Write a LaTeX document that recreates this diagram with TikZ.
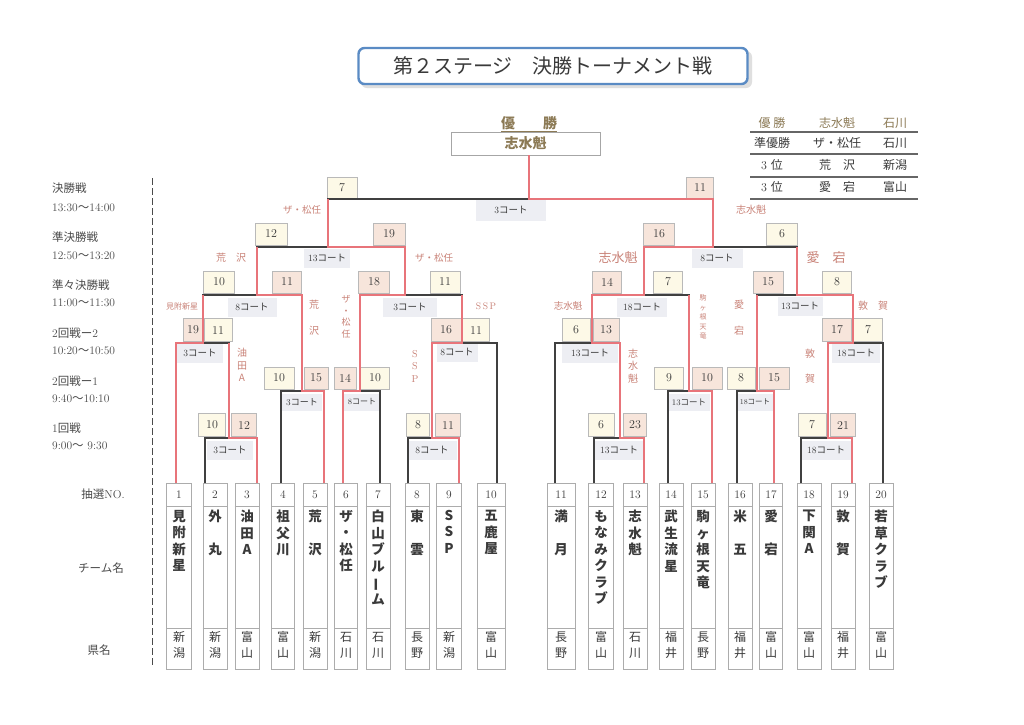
\documentclass[tikz,border=0pt]{standalone}
\usepackage{fontspec}
\newfontfamily\jp{Noto Sans CJK JP}
\usetikzlibrary{calc}
\definecolor{lnc}{HTML}{404040}
\definecolor{wred}{HTML}{E8747A}
\definecolor{lab}{HTML}{C98277}
\definecolor{cream}{HTML}{FDF9E7}
\definecolor{peach}{HTML}{F7E5DB}
\definecolor{courtbg}{HTML}{EDEEF3}
\definecolor{brownt}{HTML}{8C7A55}
\definecolor{titleblue}{HTML}{5A8BC4}
\definecolor{txt}{HTML}{3A3A3A}
\definecolor{sidec}{HTML}{4A4A4A}
\newcommand\wave{{\jp 〜}}
\newcommand\ct[1]{#1{\jp コート}}
\begin{document}
\begin{tikzpicture}[x=1pt,y=-1pt,
  lnk/.style={draw=lnc,line width=1.1pt},
  win/.style={draw=wred,line width=2.3pt},
  sbox/.style={draw=gray!55,line width=0.5pt,minimum width=28pt,minimum height=21pt,inner sep=0pt,font=\fontsize{12}{12}\selectfont,text=txt},
  sw/.style={sbox,fill=peach},
  sl/.style={sbox,fill=cream},
  court/.style={fill=courtbg,inner sep=0pt,minimum height=19pt,font=\fontsize{9.5}{9.5}\selectfont,text=txt},
  wl/.style={text=lab,inner sep=0pt,align=center},
  tbox/.style={draw=gray!65,line width=0.6pt,fill=white,minimum height=186pt,inner sep=0pt},
  lt/.style={anchor=west,inner sep=0pt,text=sidec,font=\fontsize{11.5}{11.5}\selectfont},
  tab/.style={inner sep=0pt,font=\fontsize{12}{12}\selectfont,text=txt}]
\useasboundingbox (0,0) rectangle (1024,724);
\fill[white] (0,0) rectangle (1024,724);

% title
\fill[gray!25,rounded corners=6pt] (361,51) rectangle (752,88);
\node[draw=titleblue,line width=2.4pt,fill=white,rounded corners=6pt,minimum width=389pt,minimum height=36pt,inner sep=0pt,font=\jp\fontsize{20}{20}\selectfont,text=txt] (title) at (553,66) {第２ステージ　決勝トーナメント戦};

% champion
\node[inner sep=0pt,font=\jp\bfseries\fontsize{14}{14}\selectfont,text=brownt] (champh) at (529,124) {\underline{優　　勝}};
\node[draw=gray!70,line width=0.6pt,minimum width=149pt,minimum height=23pt,inner sep=0pt,font=\jp\bfseries\fontsize{14}{14}\selectfont,text=brownt] (champ) at (525.5,143.5) {志水魁};

% result table
\node[tab,text=brownt] (r1a) at (772,123) {\jp 優 勝};
\node[tab,text=brownt] (r1b) at (837,123) {\jp 志水魁};
\node[tab,text=brownt] (r1c) at (895,123) {\jp 石川};
\node[tab] (r2a) at (772,143) {\jp 準優勝};
\node[tab] (r2b) at (837,143) {\jp ザ・松任};
\node[tab] (r2c) at (895,143) {\jp 石川};
\node[tab] (r3a) at (772,165) {3 {\jp 位}};
\node[tab] (r3b) at (837,165) {\jp 荒　沢};
\node[tab] (r3c) at (895,165) {\jp 新潟};
\node[tab] (r4a) at (772,187) {3 {\jp 位}};
\node[tab] (r4b) at (837,187) {\jp 愛　宕};
\node[tab] (r4c) at (895,187) {\jp 富山};
\foreach \yy in {132,154,177,199} \draw[gray!80!black,line width=1.2pt] (750,\yy) -- (918,\yy);

% side labels
\node[lt] (l1a) at (52,188) {\jp 決勝戦};
\node[lt] (l1b) at (52,208) {13:30\wave14:00};
\node[lt] (l2a) at (52,237) {\jp 準決勝戦};
\node[lt] (l2b) at (52,256) {12:50\wave13:20};
\node[lt] (l3a) at (52,285) {\jp 準々決勝戦};
\node[lt] (l3b) at (52,303) {11:00\wave11:30};
\node[lt] (l4a) at (52,333) {2{\jp 回戦ー}2};
\node[lt] (l4b) at (52,351) {10:20\wave10:50};
\node[lt] (l5a) at (52,381) {2{\jp 回戦ー}1};
\node[lt] (l5b) at (52,399) {9:40\wave10:10};
\node[lt] (l6a) at (52,428) {1{\jp 回戦}};
\node[lt] (l6b) at (52,446) {9:00\wave\ 9:30};
\node[lt,anchor=east] (lno) at (125,494) {{\jp 抽選}NO.};
\node[lt,anchor=center] (lteam) at (101,568) {\jp チーム名};
\node[lt,anchor=center] (lpref) at (99,650) {\jp 県名};
\coordinate (dtop) at (152,178);
\coordinate (dbot) at (152,668);
\draw[sidec,line width=1pt,dash pattern=on 7pt off 3pt] (dtop) -- (dbot);

% team boxes
\foreach \i/\x/\w/\nm/\pf in {
1/179/25/{見\\附\\新\\星}/{新\\潟},
2/215/24/{外\\　\\丸}/{新\\潟},
3/247/24/{油\\田\\A}/{富\\山},
4/283/23/{祖\\父\\川}/{富\\山},
5/315/24/{荒\\　\\沢}/{新\\潟},
6/346/23/{ザ\\・\\松\\任}/{石\\川},
7/378/24/{白\\山\\ブ\\ル\\\rotatebox[origin=c]{90}{ー}\\ム}/{石\\川},
8/417/24/{東\\　\\雲}/{長\\野},
9/449/25/{S\\S\\P}/{新\\潟},
10/491/28/{五\\鹿\\屋}/{富\\山},
11/561/28/{満\\　\\月}/{長\\野},
12/601/25/{も\\な\\み\\ク\\ラ\\ブ}/{富\\山},
13/635/24/{志\\水\\魁}/{石\\川},
14/671/24/{武\\生\\流\\星}/{福\\井},
15/703/24/{駒\\ヶ\\根\\天\\竜}/{長\\野},
16/740/24/{米\\　\\五}/{福\\井},
17/771/23/{愛\\　\\宕}/{富\\山},
18/809/24/{下\\関\\A}/{富\\山},
19/843/24/{敦\\　\\賀}/{福\\井},
20/881/24/{若\\草\\ク\\ラ\\ブ}/{富\\山}}{
  \node[tbox,minimum width=\w pt] (b\i) at (\x,576) {};
  \draw[gray!65,line width=0.5pt] ($(b\i.north west)+(0,24)$) -- ($(b\i.north east)+(0,24)$);
  \draw[gray!65,line width=0.5pt] ($(b\i.north west)+(0,146)$) -- ($(b\i.north east)+(0,146)$);
  \node[inner sep=0pt,text=txt,font=\fontsize{11.5}{11.5}\selectfont] (n\i) at (\x,495) {\i};
  \node[anchor=north,align=center,inner sep=0pt,text=txt,font=\jp\bfseries\fontsize{13.5}{16.5}\selectfont] (tn\i) at (\x,510) {\nm};
  \node[align=center,inner sep=0pt,text=txt,font=\jp\fontsize{12}{16}\selectfont] (pf\i) at (\x,645) {\pf};
}

% score boxes
\node[sl,minimum width=30pt] (s1) at (342,188) {7};
\node[sw,minimum width=27pt] (s2) at (700,188) {11};
\node[sl,minimum width=32pt,minimum height=22pt] (s3) at (271,234) {12};
\node[sw,minimum width=32pt,minimum height=22pt] (s4) at (389,234) {19};
\node[sw,minimum width=31pt,minimum height=22pt] (s5) at (659,234) {16};
\node[sl,minimum width=31pt,minimum height=22pt] (s6) at (782,234) {6};
\node[sl,minimum width=31pt,minimum height=22pt] (s7) at (219,282) {10};
\node[sw,minimum width=29pt,minimum height=22pt] (s8) at (287,282) {11};
\node[sw,minimum width=31pt,minimum height=22pt] (s9) at (374,282) {18};
\node[sl,minimum width=30pt,minimum height=22pt] (s10) at (445,282) {11};
\node[sw,minimum width=29pt,minimum height=22pt] (s11) at (607,282) {14};
\node[sl,minimum width=29pt,minimum height=22pt] (s12) at (668,282) {7};
\node[sw,minimum width=30pt,minimum height=22pt] (s13) at (768,282) {15};
\node[sl,minimum width=29pt,minimum height=22pt] (s14) at (837,282) {8};
\node[sw,minimum width=20pt,minimum height=23pt] (s15) at (193,330) {19};
\node[sl,minimum width=28pt,minimum height=23pt] (s16) at (218,330) {11};
\node[sw,minimum width=30pt,minimum height=23pt] (s17) at (446,330) {16};
\node[sl,minimum width=27pt,minimum height=23pt] (s18) at (476,330) {11};
\node[sl,minimum width=28pt,minimum height=23pt] (s19) at (576,330) {6};
\node[sw,minimum width=26pt,minimum height=23pt] (s20) at (606,330) {13};
\node[sw,minimum width=29pt,minimum height=23pt] (s21) at (837,330) {17};
\node[sl,minimum width=29pt,minimum height=23pt] (s22) at (868,330) {7};
\node[sl,minimum width=30pt,minimum height=22pt] (s23) at (279,378) {10};
\node[sw,minimum width=24pt,minimum height=22pt] (s24) at (316,378) {15};
\node[sw,minimum width=22pt,minimum height=22pt] (s25) at (345,378) {14};
\node[sl,minimum width=29pt,minimum height=22pt] (s26) at (375,378) {10};
\node[sl,minimum width=29pt,minimum height=22pt] (s27) at (669,378) {9};
\node[sw,minimum width=30pt,minimum height=22pt] (s28) at (707,378) {10};
\node[sl,minimum width=28pt,minimum height=22pt] (s29) at (741,378) {8};
\node[sw,minimum width=30pt,minimum height=22pt] (s30) at (774,378) {15};
\node[sl,minimum width=27pt,minimum height=23pt] (s31) at (212,425) {10};
\node[sw,minimum width=25pt,minimum height=23pt] (s32) at (244,425) {12};
\node[sl,minimum width=23pt,minimum height=23pt] (s33) at (418,425) {8};
\node[sw,minimum width=25pt,minimum height=23pt] (s34) at (448,425) {11};
\node[sl,minimum width=26pt,minimum height=23pt] (s35) at (601,425) {6};
\node[sw,minimum width=23pt,minimum height=23pt] (s36) at (635,425) {23};
\node[sl,minimum width=28pt,minimum height=23pt] (s37) at (812,425) {7};
\node[sw,minimum width=25pt,minimum height=23pt] (s38) at (843,425) {21};

% court labels
\node[court,minimum width=70pt,minimum height=21pt] (c1) at (511,210) {\ct{3}};
\node[court,minimum width=46pt] (c2) at (327,258) {\ct{13}};
\node[court,minimum width=51pt] (c3) at (717,258) {\ct{8}};
\node[court,minimum width=49pt] (c4) at (252,307) {\ct{8}};
\node[court,minimum width=54pt] (c5) at (410,307) {\ct{3}};
\node[court,minimum width=50pt] (c6) at (642,307) {\ct{18}};
\node[court,minimum width=45pt] (c7) at (800,306) {\ct{13}};
\node[court,minimum width=46pt] (c8) at (200,353) {\ct{3}};
\node[court,minimum width=41pt] (c9) at (457,352) {\ct{8}};
\node[court,minimum width=56pt] (c10) at (590,353) {\ct{13}};
\node[court,minimum width=48pt] (c11) at (856,353) {\ct{18}};
\node[court,minimum width=40pt,minimum height=17pt,font=\fontsize{9}{9}\selectfont] (c12) at (302,402) {\ct{3}};
\node[court,minimum width=36pt,minimum height=17pt,font=\fontsize{8}{8}\selectfont] (c13) at (362,402) {\ct{8}};
\node[court,minimum width=41pt,minimum height=17pt,font=\fontsize{8.5}{8.5}\selectfont] (c14) at (689,402) {\ct{13}};
\node[court,minimum width=36pt,minimum height=17pt,font=\fontsize{7.5}{7.5}\selectfont] (c15) at (755,402) {\ct{18}};
\node[court,minimum width=46pt] (c16) at (230,450) {\ct{3}};
\node[court,minimum width=49pt] (c17) at (432,450) {\ct{8}};
\node[court,minimum width=50pt] (c18) at (619,450) {\ct{13}};
\node[court,minimum width=49pt] (c19) at (826,450) {\ct{18}};

% winner labels
\node[wl,font=\jp\fontsize{9.5}{9.5}\selectfont] (w1) at (302,210) {ザ・松任};
\node[wl,font=\jp\fontsize{10}{10}\selectfont] (w2) at (751,210) {志水魁};
\node[wl,font=\jp\fontsize{10}{10}\selectfont] (w3) at (231,258) {荒　沢};
\node[wl,font=\jp\fontsize{9.5}{9.5}\selectfont] (w4) at (434,258) {ザ・松任};
\node[wl,font=\jp\fontsize{13}{13}\selectfont] (w5) at (618,258) {志水魁};
\node[wl,font=\jp\fontsize{13}{13}\selectfont] (w6) at (826,258) {愛　宕};
\node[wl,font=\jp\fontsize{8}{8}\selectfont] (w7) at (182,306) {見附新星};
\node[wl,font=\jp\fontsize{10}{13}\selectfont] (w8) at (314,318) {荒\\[13pt]沢};
\node[wl,font=\jp\fontsize{9}{11.5}\selectfont] (w9) at (346,317) {ザ\\・\\松\\任};
\node[wl,font=\fontsize{9.5}{9.5}\selectfont] (w10) at (486,306) {S\,S\,P};
\node[wl,font=\jp\fontsize{10}{12.5}\selectfont] (w11) at (242,365) {油\\田\\A};
\node[wl,font=\fontsize{10}{12.5}\selectfont] (w12) at (415,366) {S\\S\\P};
\node[wl,font=\jp\fontsize{9.5}{9.5}\selectfont] (w13) at (568,306) {志水魁};
\node[wl,font=\jp\fontsize{7}{9.5}\selectfont] (w14) at (703,317) {駒\\ヶ\\根\\天\\竜};
\node[wl,font=\jp\fontsize{10}{12.5}\selectfont] (w15) at (633,366) {志\\水\\魁};
\node[wl,font=\jp\fontsize{10}{13}\selectfont] (w16) at (739,318) {愛\\[13pt]宕};
\node[wl,font=\jp\fontsize{10}{10}\selectfont] (w17) at (873,306) {敦　賀};
\node[wl,font=\jp\fontsize{10}{12.5}\selectfont] (w18) at (810,366) {敦\\[12pt]賀};

% team line ends
\foreach \i/\x in {1/176,2/205,3/257,4/281,5/324,6/343,7/380,8/408,9/459,10/497,
  11/555,12/594,13/644,14/668,15/712,16/737,17/774,18/801,19/852,20/883}
  \coordinate (T\i) at (\x,483);

% match points
\coordinate (MA) at (229,438);
\coordinate (MB) at (203,343);
\coordinate (MC) at (302,391);
\coordinate (MD) at (257,295);
\coordinate (ME) at (360,391);
\coordinate (MF) at (432,438);
\coordinate (MG) at (462,343);
\coordinate (MH) at (405,295);
\coordinate (MI) at (328,247);
\coordinate (MJ) at (620,438);
\coordinate (MK) at (592,343);
\coordinate (ML) at (689,391);
\coordinate (MM) at (644,295);
\coordinate (MN) at (757,391);
\coordinate (MO) at (828,438);
\coordinate (MP) at (853,343);
\coordinate (MQ) at (797,295);
\coordinate (MR) at (713,247);
\coordinate (MZ) at (529,199);

% bracket lines
\foreach \l/\m/\r in {T2/MA/T3, T1/MB/MA, T4/MC/T5, MB/MD/MC, T6/ME/T7, T8/MF/T9,
  MF/MG/T10, ME/MH/MG, MD/MI/MH, T12/MJ/T13, T11/MK/MJ, T14/ML/T15, MK/MM/ML,
  T16/MN/T17, T18/MO/T19, MO/MP/T20, MN/MQ/MP, MM/MR/MQ, MI/MZ/MR}
  \draw[lnk] (\l) |- (\m) -| (\r);

% winner paths
\foreach \w/\m/\p in {T3/MA/MB, T1/MB/MD, T5/MC/MD, MC/MD/MI, T6/ME/MH, T9/MF/MG,
  MF/MG/MH, ME/MH/MI, MH/MI/MZ, T13/MJ/MK, MJ/MK/MM, T15/ML/MM, MK/MM/MR,
  T17/MN/MQ, T19/MO/MP, MO/MP/MQ, MP/MQ/MR, MM/MR/MZ}
  \draw[win] (\w) |- (\m) -- (\m |- \p);
\draw[win] (MR) |- (MZ) -- (MZ |- champ.south);
\end{tikzpicture}
\end{document}
